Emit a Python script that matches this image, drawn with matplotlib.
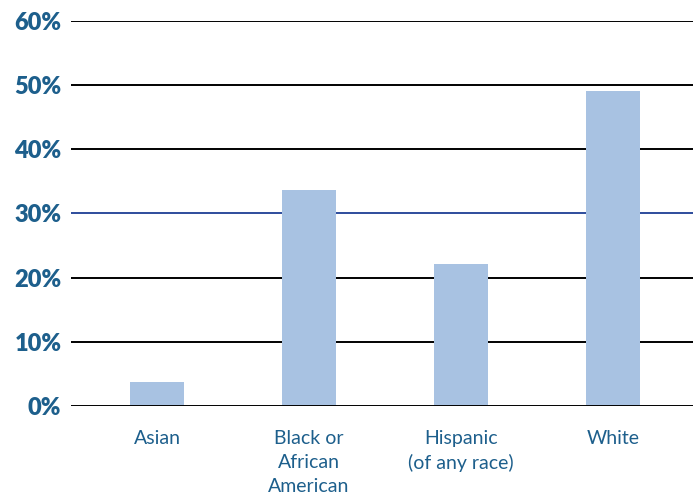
import numpy as np
import matplotlib
matplotlib.use('Agg')
import matplotlib.pyplot as plt

categories = ['Asian', 'Black or\nAfrican\nAmerican', 'Hispanic\n(of any race)', 'White']
values = [3.7, 33.6, 22.1, 49.1]
y_ticks = [0, 10, 20, 30, 40, 50, 60]

label_color = '#1d5f8c'
bar_color = '#a8c2e2'

plt.rcParams['font.family'] = ['Lato', 'DejaVu Sans']

fig = plt.figure(figsize=(6.93, 4.99), dpi=100)
ax = fig.add_axes([0.1025, 0.1864, 0.8975, 0.7716])

x_pos = np.arange(len(categories))
ax.bar(x_pos, values, width=0.355, color=bar_color, zorder=3)

# horizontal rules, the 30% one is blue in the original
for t in y_ticks:
    col = '#2d4c9c' if t == 30 else 'black'
    ax.axhline(t, color=col, lw=1.4, zorder=1 if t else 4)

ax.set_xlim(-0.566, 3.526)
ax.set_ylim(0, 60)
ax.set_yticks(y_ticks)
ax.set_yticklabels([f'{t}%' for t in y_ticks], fontsize=17, fontweight='heavy', color=label_color)
ax.set_xticks(x_pos)
ax.set_xticklabels(categories, fontsize=14, color=label_color, linespacing=1.5)
ax.tick_params(axis='both', length=0)
ax.tick_params(axis='y', pad=7)
ax.tick_params(axis='x', pad=17)
for s in ax.spines.values():
    s.set_visible(False)

fig.savefig('out.png', dpi=100)
